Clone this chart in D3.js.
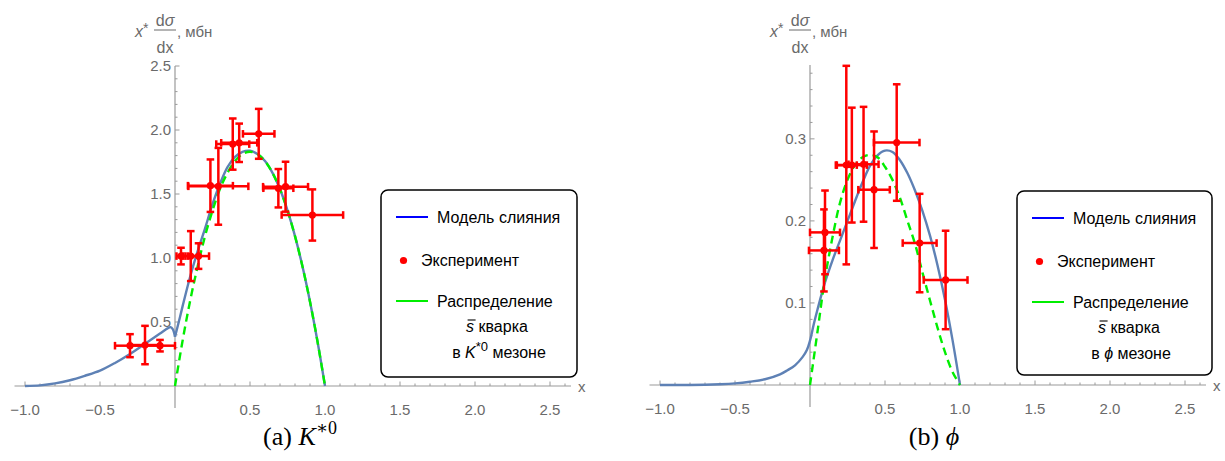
<!DOCTYPE html>
<html><head><meta charset="utf-8">
<script src="https://cdn.jsdelivr.net/npm/d3@7"></script>
<style>body{margin:0;background:#fff}svg{display:block}</style>
</head><body><svg id="c" width="1225" height="461"></svg>
<script>
// ---------- data ----------
const xTickLabels = [-1.0, -0.5, 0.5, 1.0, 1.5, 2.0, 2.5];
const kYTickLabels = [0.5, 1.0, 1.5, 2.0, 2.5];
const phiYTickLabels = [0.1, 0.2, 0.3];

// K*0 experiment
const kExpX    = [-0.30, -0.20, -0.10, 0.04, 0.105, 0.157, 0.236, 0.289, 0.385, 0.428, 0.558, 0.689, 0.737, 0.916];
const kExpY    = [0.315, 0.32, 0.315, 1.015, 1.015, 1.015, 1.565, 1.56, 1.89, 1.90, 1.97, 1.545, 1.557, 1.336];
const kExpXErr = [0.10, 0.10, 0.10, 0.03, 0.05, 0.07, 0.15, 0.20, 0.11, 0.12, 0.105, 0.10, 0.15, 0.205];
const kExpYErr = [0.09, 0.15, 0.045, 0.065, 0.195, 0.10, 0.205, 0.30, 0.20, 0.15, 0.195, 0.15, 0.195, 0.20];

// K*0 fusion model (blue) — cusp at x = 0 (x = 0 listed twice)
const kModelX = [-1, -0.9, -0.8, -0.7, -0.6, -0.5, -0.4, -0.3, -0.2, -0.1, -0.05, -0.03, -0.015, 0,
                 0, 0.025, 0.05, 0.1, 0.15, 0.2, 0.25, 0.3, 0.35, 0.4, 0.45, 0.5, 0.55, 0.6, 0.65, 0.7, 0.75, 0.8, 0.85, 0.9, 0.95, 1.0];
const kModelY = [0, 0.005, 0.02, 0.045, 0.08, 0.12, 0.18, 0.25, 0.33, 0.41, 0.45, 0.46, 0.445, 0.385,
                 0.385, 0.5, 0.62, 0.85, 1.05, 1.23, 1.42, 1.58, 1.71, 1.79, 1.83, 1.838, 1.812, 1.757, 1.665, 1.537, 1.373, 1.171, 0.933, 0.659, 0.348, 0];
// s-bar quark distribution in K*0 (green dashed)
const kQuarkX = [0, 0.05, 0.1, 0.15, 0.2, 0.25, 0.3, 0.35, 0.4, 0.45, 0.5, 0.55, 0.6, 0.65, 0.7, 0.75, 0.8, 0.85, 0.9, 0.95, 1.0];
const kQuarkY = [0, 0.35, 0.66, 0.93, 1.17, 1.37, 1.54, 1.665, 1.757, 1.812, 1.83, 1.812, 1.757, 1.665, 1.537, 1.373, 1.171, 0.933, 0.659, 0.348, 0];

// phi experiment
const phiExpX    = [0.10, 0.093, 0.242, 0.279, 0.357, 0.427, 0.578, 0.731, 0.904];
const phiExpY    = [0.186, 0.164, 0.268, 0.268, 0.269, 0.238, 0.2955, 0.173, 0.128];
const phiExpXErr = [0.10, 0.10, 0.07, 0.10, 0.10, 0.105, 0.152, 0.113, 0.146];
const phiExpYErr = [0.051, 0.05, 0.121, 0.07, 0.07, 0.071, 0.071, 0.06, 0.06];

// phi fusion model (blue)
const phiModelX = [-1, -0.8, -0.6, -0.5, -0.4, -0.3, -0.2, -0.15, -0.1, -0.05, -0.02, 0,
                   0.025, 0.05, 0.1, 0.15, 0.2, 0.25, 0.3, 0.35, 0.4, 0.45, 0.5, 0.55, 0.6, 0.65, 0.7, 0.75, 0.8, 0.85, 0.9, 0.95, 1.0];
const phiModelY = [0, 0, 0.001, 0.002, 0.004, 0.007, 0.013, 0.018, 0.024, 0.034, 0.043, 0.054,
                   0.074, 0.092, 0.125, 0.152, 0.176, 0.2, 0.224, 0.247, 0.267, 0.28, 0.2857, 0.284, 0.274, 0.258, 0.237, 0.212, 0.182, 0.146, 0.104, 0.055, 0];
// s-bar quark distribution in phi (green dashed)
const phiQuarkX = [0, 0.05, 0.1, 0.15, 0.2, 0.25, 0.3, 0.35, 0.4, 0.45, 0.5, 0.55, 0.6, 0.65, 0.7, 0.75, 0.8, 0.85, 0.9, 0.95, 1.0];
const phiQuarkY = [0, 0.065, 0.13, 0.18, 0.222, 0.25, 0.268, 0.2776, 0.2805, 0.2776, 0.266, 0.25, 0.228, 0.2, 0.172, 0.137, 0.103, 0.07, 0.04, 0.016, 0];

const legendLabels = ["Модель слияния", "Эксперимент", "Распределение"];

// ---------- drawing ----------
const svg = d3.select("#c");
const AX = "#9a9a9a", LBL = "#6a6a6a", BLUE = "#5e81b5", RED = "#ff0000", GREEN = "#00ee00";
const SANS = "'Liberation Sans', Arial, sans-serif";
const FS = 15;

function panel(o) {
  const g = svg.append("g");
  const x = d3.scaleLinear().domain([-1, 2.5]).range([o.x0 - 150, o.x0 + 375]);
  const y = d3.scaleLinear().domain([0, o.yMax]).range([o.yBase, o.yTop]);

  const xMinor = d3.range(-10, 27).map(d => d / 10).filter(v => Math.abs(v * 2 - Math.round(v * 2)) > 1e-6);
  g.selectAll(".xmin").data(xMinor).join("line")
    .attr("x1", d => x(d)).attr("x2", d => x(d))
    .attr("y1", y(0)).attr("y2", y(0) - 2.5).attr("stroke", AX).attr("stroke-width", 1);
  g.selectAll(".xmaj").data(xTickLabels).join("line")
    .attr("x1", d => x(d)).attr("x2", d => x(d))
    .attr("y1", y(0)).attr("y2", y(0) - 4.5).attr("stroke", AX).attr("stroke-width", 1);
  g.selectAll(".ymin").data(o.yMinor).join("line")
    .attr("x1", x(0)).attr("x2", x(0) + 2.5)
    .attr("y1", d => y(d)).attr("y2", d => y(d)).attr("stroke", AX).attr("stroke-width", 1);
  g.selectAll(".ymaj").data(o.yTicks).join("line")
    .attr("x1", x(0)).attr("x2", x(0) + 4.5)
    .attr("y1", d => y(d)).attr("y2", d => y(d)).attr("stroke", AX).attr("stroke-width", 1);

  g.append("line").attr("x1", x(-1.07)).attr("x2", x(2.64)).attr("y1", y(0)).attr("y2", y(0))
    .attr("stroke", AX).attr("stroke-width", 1.2);
  g.append("line").attr("x1", x(0)).attr("x2", x(0)).attr("y1", y(0) + 22).attr("y2", o.yTop)
    .attr("stroke", AX).attr("stroke-width", 1.2);

  g.selectAll(".xl").data(xTickLabels).join("text")
    .attr("x", d => x(d)).attr("y", y(0) + 29).attr("text-anchor", "middle")
    .attr("font-family", SANS).attr("font-size", FS).attr("fill", LBL)
    .text(d => (d < 0 ? "\u2212" : "") + Math.abs(d).toFixed(1));
  g.selectAll(".yl").data(o.yTicks).join("text")
    .attr("x", x(0) - 4).attr("y", d => y(d) + 5).attr("text-anchor", "end")
    .attr("font-family", SANS).attr("font-size", FS).attr("fill", LBL)
    .text(d => d.toFixed(1));
  g.append("text").attr("x", x(2.64) + 7).attr("y", y(0) + 6)
    .attr("font-family", SANS).attr("font-size", FS).attr("fill", LBL).text("x");

  // y axis label
  const lx = x(0) - 40;
  const t1 = g.append("text").attr("x", lx).attr("y", 37).attr("font-family", SANS).attr("font-size", 16).attr("fill", LBL);
  t1.append("tspan").attr("font-style", "italic").text("x");
  t1.append("tspan").attr("dy", -4).attr("font-size", 14).text("*");
  g.append("text").attr("x", lx + 30).attr("y", 26).attr("text-anchor", "middle")
    .attr("font-family", SANS).attr("font-size", 16).attr("fill", LBL)
    .html('d<tspan font-style="italic">σ</tspan>');
  g.append("line").attr("x1", lx + 19).attr("x2", lx + 41).attr("y1", 30).attr("y2", 30)
    .attr("stroke", LBL).attr("stroke-width", 1);
  g.append("text").attr("x", lx + 30).attr("y", 53).attr("text-anchor", "middle")
    .attr("font-family", SANS).attr("font-size", 16).attr("fill", LBL).text("dx");
  g.append("text").attr("x", lx + 42).attr("y", 37)
    .attr("font-family", SANS).attr("font-size", FS).attr("fill", LBL).text(", мбн");

  // curves (model split at a repeated x = 0 where there is a cusp)
  const line = d3.line().x(d => x(d[0])).y(d => y(d[1])).curve(d3.curveCatmullRom.alpha(0.5));
  const model = o.mX.map((v, i) => [v, o.mY[i]]);
  const i0 = o.mX.indexOf(0), i1 = o.mX.lastIndexOf(0);
  const segs = i1 > i0 ? [model.slice(0, i1), model.slice(i1)] : [model];
  segs.forEach(seg => g.append("path").attr("d", line(seg)).attr("fill", "none")
    .attr("stroke", BLUE).attr("stroke-width", 2.4).attr("stroke-linejoin", "round"));
  const quark = o.qX.map((v, i) => [v, o.qY[i]]);
  g.append("path").attr("d", line(quark)).attr("fill", "none").attr("stroke", GREEN)
    .attr("stroke-width", 2.4).attr("stroke-dasharray", "8,5");

  // error bars
  const pts = o.eX.map((v, i) => ({x: v, y: o.eY[i], xe: o.eXE[i], ye: o.eYE[i]}));
  const eb = g.append("g").attr("stroke", RED).attr("stroke-width", 2.5);
  pts.forEach(p => {
    const cx = x(p.x), cy = y(p.y);
    const xl = x(p.x - p.xe), xr = x(p.x + p.xe), yt = y(p.y + p.ye), yb = y(p.y - p.ye);
    eb.append("line").attr("x1", xl).attr("x2", xr).attr("y1", cy).attr("y2", cy);
    eb.append("line").attr("x1", cx).attr("x2", cx).attr("y1", yt).attr("y2", yb);
    eb.append("line").attr("x1", xl).attr("x2", xl).attr("y1", cy - 3.8).attr("y2", cy + 3.8);
    eb.append("line").attr("x1", xr).attr("x2", xr).attr("y1", cy - 3.8).attr("y2", cy + 3.8);
    eb.append("line").attr("x1", cx - 3.8).attr("x2", cx + 3.8).attr("y1", yt).attr("y2", yt);
    eb.append("line").attr("x1", cx - 3.8).attr("x2", cx + 3.8).attr("y1", yb).attr("y2", yb);
  });
  g.selectAll(".pt").data(pts).join("circle").attr("cx", d => x(d.x)).attr("cy", d => y(d.y))
    .attr("r", 3.6).attr("fill", RED);

  // legend
  const L = o.leg;
  const lg = g.append("g").attr("font-family", SANS).attr("font-size", 16).attr("fill", "#000");
  lg.append("rect").attr("x", L.x).attr("y", L.y).attr("width", L.w).attr("height", L.h)
    .attr("rx", 7).attr("fill", "#fff").attr("stroke", "#000").attr("stroke-width", 1.5);
  lg.append("line").attr("x1", L.x + 15).attr("x2", L.x + 47).attr("y1", L.y + 27).attr("y2", L.y + 27)
    .attr("stroke", "#0000ff").attr("stroke-width", 2);
  lg.append("text").attr("x", L.x + 56).attr("y", L.y + 33).text(legendLabels[0]);
  lg.append("circle").attr("cx", L.x + 22.5).attr("cy", L.y + 70.5).attr("r", 3.6).attr("fill", RED);
  lg.append("text").attr("x", L.x + 40).attr("y", L.y + 76).text(legendLabels[1]);
  lg.append("line").attr("x1", L.x + 15).attr("x2", L.x + 47).attr("y1", L.y + 111).attr("y2", L.y + 111)
    .attr("stroke", GREEN).attr("stroke-width", 2);
  lg.append("text").attr("x", L.x + 56).attr("y", L.y + 117).text(legendLabels[2]);
  const s = lg.append("text").attr("x", L.x + L.cx).attr("y", L.y + 142).attr("text-anchor", "middle");
  s.append("tspan").attr("font-style", "italic").text("s");
  s.append("tspan").text(" кварка");
  const sn = s.node();
  const s0 = sn.getStartPositionOfChar(0).x, s1 = sn.getEndPositionOfChar(0).x;
  lg.append("line").attr("x1", s0 + 1.5).attr("x2", s1 + 1.5)
    .attr("y1", L.y + 130).attr("y2", L.y + 130).attr("stroke", "#000").attr("stroke-width", 1.1);
  const m = lg.append("text").attr("x", L.x + L.cx + 2).attr("y", L.y + 168).attr("text-anchor", "middle");
  o.mesonText(m);

  // caption
  const c = g.append("text").attr("x", o.capX).attr("y", 445).attr("text-anchor", "middle")
    .attr("font-family", "'Liberation Serif', 'DejaVu Serif', serif").attr("font-size", 26).attr("fill", "#000");
  o.caption(c);
}

panel({
  x0: 175, yBase: 386, yTop: 66, yMax: 2.5,
  yTicks: kYTickLabels, yMinor: d3.range(1, 25).map(d => d / 10).filter(v => Math.abs(v * 2 - Math.round(v * 2)) > 1e-6),
  mX: kModelX, mY: kModelY, qX: kQuarkX, qY: kQuarkY,
  eX: kExpX, eY: kExpY, eXE: kExpXErr, eYE: kExpYErr,
  leg: {x: 381, y: 190, w: 196, h: 187, cx: 116},
  mesonText: t => { t.append("tspan").text("в "); t.append("tspan").attr("font-style", "italic").text("K");
    t.append("tspan").attr("dy", -7).attr("font-size", 13).text("*0"); t.append("tspan").attr("dy", 7).text(" мезоне"); },
  capX: 300,
  caption: t => { t.append("tspan").text("(a) "); t.append("tspan").attr("font-style", "italic").text("K");
    t.append("tspan").attr("dy", -11).attr("font-size", 18).text("∗0"); }
});

panel({
  x0: 810, yBase: 385, yTop: 65, yMax: 0.39,
  yTicks: phiYTickLabels, yMinor: d3.range(1, 20).map(d => d / 50).filter(v => Math.abs(v * 10 - Math.round(v * 10)) > 1e-6),
  mX: phiModelX, mY: phiModelY, qX: phiQuarkX, qY: phiQuarkY,
  eX: phiExpX, eY: phiExpY, eXE: phiExpXErr, eYE: phiExpYErr,
  leg: {x: 1017, y: 191, w: 195, h: 184, cx: 112},
  mesonText: t => { t.append("tspan").text("в "); t.append("tspan").attr("font-style", "italic").text("\u03D5");
    t.append("tspan").text(" мезоне"); },
  capX: 934,
  caption: t => { t.append("tspan").text("(b) "); t.append("tspan").attr("font-style", "italic").text("\u03D5"); }
});
</script></body></html>
